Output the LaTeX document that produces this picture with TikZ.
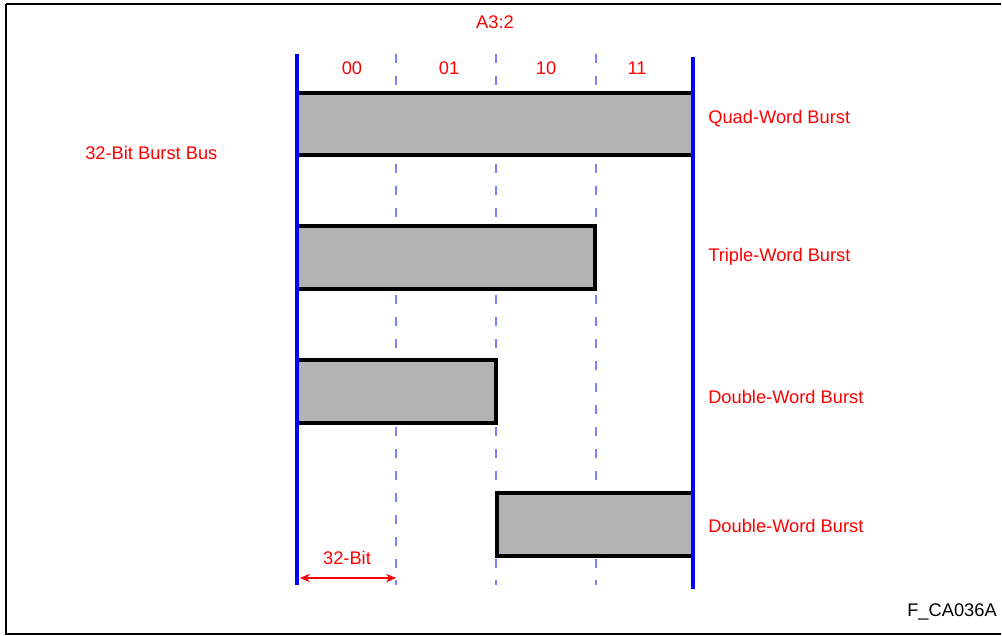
\documentclass[tikz,border=0pt]{standalone}
\usepackage{fontspec}
\setmainfont{Liberation Sans}
\usepackage{xcolor}
\usetikzlibrary{arrows.meta}

\definecolor{laneblue}{RGB}{128,128,255}
\definecolor{bargray}{RGB}{179,179,179}

\begin{document}
\begin{tikzpicture}[x=0.025cm,y=-0.025cm,
  font=\fontsize{13}{15}\selectfont,
  lbl/.style={text=red,inner sep=0pt},
  lane/.style={laneblue,line width=1.5pt,dash pattern=on 6.4pt off 9.2pt},
  edge/.style={blue,line width=2.3pt},
  burst/.style={fill=bargray,draw=black,line width=2.6pt}]
  \useasboundingbox (0,0) rectangle (1002,636);
  \draw[line width=2pt] (6,4) -- (1001,4);
  \draw[line width=2pt] (6,4) -- (6,634) -- (1001,634);
  \draw[lane] (396,54) -- (396,585);
  \draw[lane] (496,54) -- (496,585);
  \draw[lane] (596,54) -- (596,585);
  \draw[burst] (297,93) rectangle (693,155);
  \draw[burst] (297,226) rectangle (595,289);
  \draw[burst] (297,360) rectangle (496,423);
  \draw[burst] (497,493) rectangle (693,556);
  \draw[edge] (297,54) -- (297,585);
  \draw[edge] (693,57) -- (693,589);
  \node[lbl] (addr) at (495,22) {A3:2};
  \node[lbl] (c00) at (352,68) {00};
  \node[lbl] (c01) at (449,68) {01};
  \node[lbl] (c10) at (546,68) {10};
  \node[lbl] (c11) at (637,68) {11};
  \node[lbl,anchor=west] (bus) at (85,153) {32-Bit Burst Bus};
  \node[lbl,anchor=west] (quad) at (708,119) {Quad-Word Burst};
  \node[lbl,anchor=west] (triple) at (708,257) {Triple-Word Burst};
  \node[lbl,anchor=west] (dbla) at (708,397) {Double-Word Burst};
  \node[lbl,anchor=west] (dblb) at (708,526) {Double-Word Burst};
  \coordinate (wl) at (300,578);
  \coordinate (wr) at (396,578);
  \draw[red,line width=1.5pt,{Stealth[length=7pt,width=6pt]}-{Stealth[length=7pt,width=6pt]}] (wl) -- (wr);
  \node[lbl] (width) at (347,558) {32-Bit};
  \node[lbl,anchor=east,text=black] (figid) at (997,612) {F\_CA036A};
\end{tikzpicture}
\end{document}
